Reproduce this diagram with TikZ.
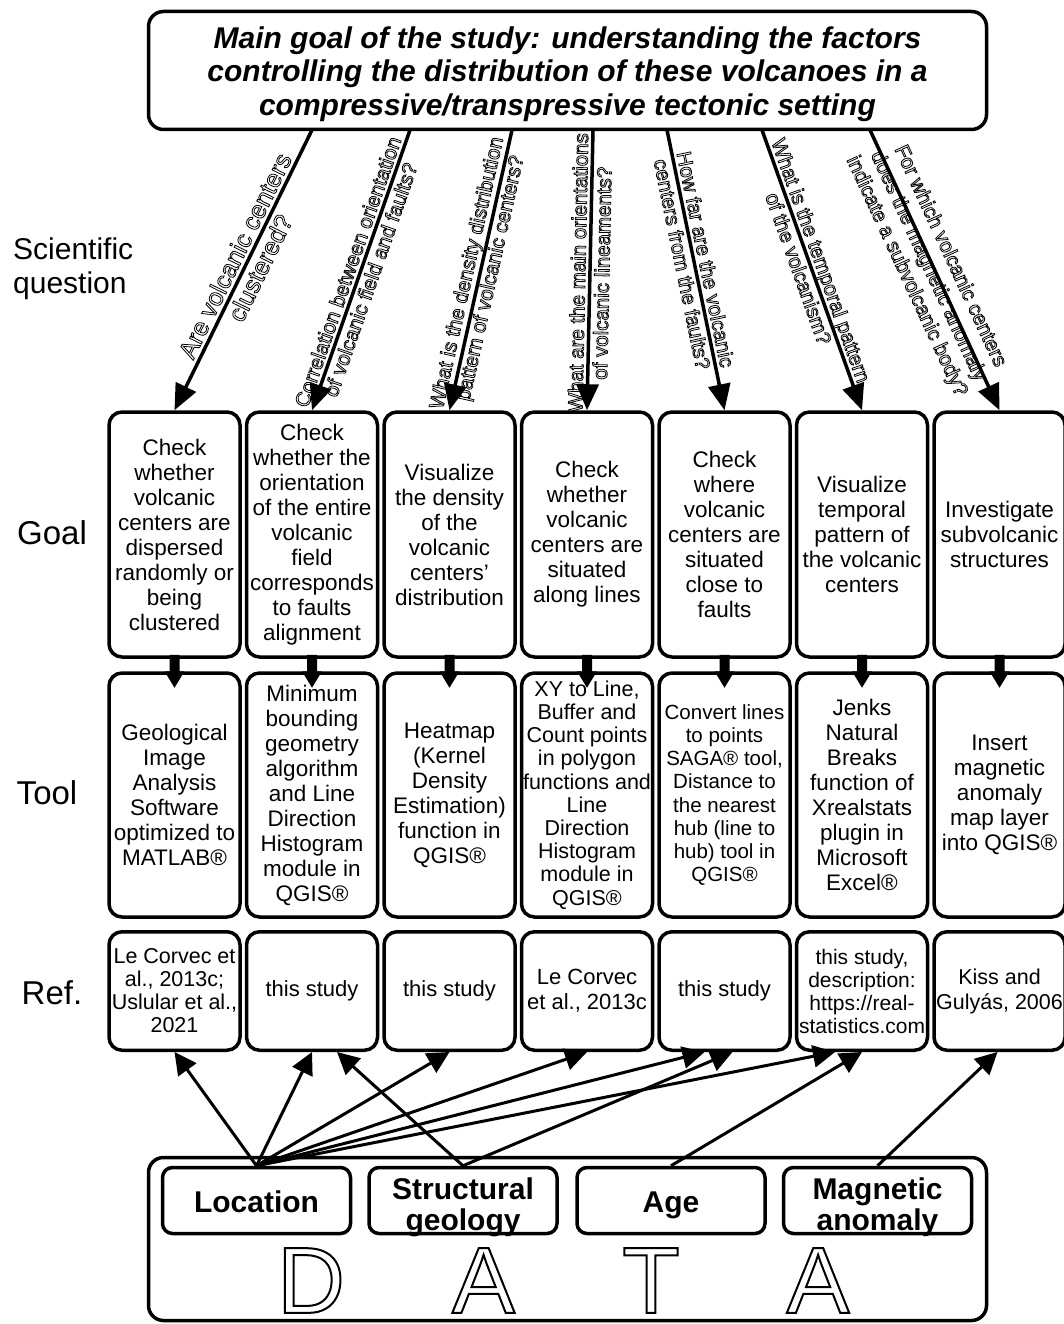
\documentclass[tikz,border=0pt]{standalone}
\usepackage{fontspec}
\setmainfont{Liberation Sans}
\usetikzlibrary{arrows.meta,calc}

% outlined (hollow) text: PDF text rendering mode 1 (stroke only)
\newcommand{\olt}[2][0.8]{%
  \special{pdf:literal direct #1 w 1 Tr}#2\special{pdf:literal direct 0 Tr}}

\begin{document}
\begin{tikzpicture}[x=1pt,y=-1pt,
  box/.style={draw=black, line width=3.5pt, rounded corners=13pt, fill=white,
    align=center, inner sep=0pt, minimum width=131pt},
  goalbox/.style={box, minimum height=245pt, font=\fontsize{22.5}{25}\selectfont},
  toolbox/.style={box, minimum height=244pt, font=\fontsize{22.5}{25}\selectfont},
  refbox/.style={box, minimum height=118.5pt, font=\fontsize{22}{23}\selectfont},
  qarrow/.style={line width=3.5pt, -{Triangle[length=26pt,width=22pt]}},
  darrow/.style={line width=3pt, -{Triangle[length=22pt,width=22pt]}},
  qtext/.style={sloped, align=center, inner sep=0pt, font=\fontsize{20.5}{24}\selectfont},
  sidelabel/.style={inner sep=0pt, font=\fontsize{33}{34}\selectfont},
  databox/.style={draw=black, line width=3.5pt, rounded corners=10pt, fill=white,
    minimum width=188pt, minimum height=66pt, inner sep=0pt},
  datatext/.style={align=center, inner sep=0pt, font=\bfseries\fontsize{30}{31}\selectfont},
  bigletter/.style={inner sep=0pt, font=\fontsize{94}{94}\selectfont},
  fatarrow/.style={fill=black}
]
\useasboundingbox (0,0) rectangle (1064,1324);

% ---------- main goal ----------
\node[draw=black, line width=3.5pt, rounded corners=15pt, fill=white,
  minimum width=838pt, minimum height=118pt, inner sep=0pt] (top) at (567.5,70.5) {};
\node[align=center, inner sep=0pt, font=\bfseries\itshape\fontsize{30}{33.5}\selectfont]
  (toptext) at (567.5,74)
  {Main goal of the study: understanding the factors\\
   controlling the distribution of these volcanoes in a\\
   compressive/transpressive tectonic setting};

% ---------- side labels ----------
\node[sidelabel, anchor=west, align=left, font=\fontsize{30}{34}\selectfont] (lq) at (13,269) {Scientific\\question};
\node[sidelabel] (lg) at (52,533) {Goal};
\node[sidelabel] (lt) at (47,793) {Tool};
\node[sidelabel] (lr) at (52,993) {Ref.};

% ---------- goal boxes ----------
\node[goalbox] (g1) at (174.5,534.5) {Check\\whether\\volcanic\\centers are\\dispersed\\randomly or\\being\\clustered};
\node[goalbox] (g2) at (312,534.5) {Check\\whether the\\orientation\\of the entire\\volcanic\\field\\corresponds\\to faults\\alignment};
\node[goalbox] (g3) at (449.5,534.5) {Visualize\\the density\\of the\\volcanic\\centers'\\distribution};
\node[goalbox] (g4) at (587,534.5) {Check\\whether\\volcanic\\centers are\\situated\\along lines};
\node[goalbox] (g5) at (724.5,534.5) {Check\\where\\volcanic\\centers are\\situated\\close to\\faults};
\node[goalbox] (g6) at (862,534.5) {Visualize\\temporal\\pattern of\\the volcanic\\centers};
\node[goalbox] (g7) at (999.5,534.5) {Investigate\\subvolcanic\\structures};

% ---------- tool boxes ----------
\node[toolbox] (t1) at (174.5,795) {Geological\\Image\\Analysis\\Software\\optimized to\\MATLAB®};
\node[toolbox] (t2) at (312,795) {Minimum\\bounding\\geometry\\algorithm\\and Line\\Direction\\Histogram\\module in\\QGIS®};
\node[toolbox] (t3) at (449.5,795) {Heatmap\\(Kernel\\Density\\Estimation)\\function in\\QGIS®};
\node[toolbox, font=\fontsize{21.5}{23.2}\selectfont] (t4) at (587,795) {XY to Line,\\Buffer and\\Count points\\in polygon\\functions and\\Line\\Direction\\Histogram\\module in\\QGIS®};
\node[toolbox, font=\fontsize{20.5}{23.1}\selectfont] (t5) at (724.5,795) {Convert lines\\to points\\SAGA® tool,\\Distance to\\the nearest\\hub (line to\\hub) tool in\\QGIS®};
\node[toolbox] (t6) at (862,795) {Jenks\\Natural\\Breaks\\function of\\Xrealstats\\plugin in\\Microsoft\\Excel®};
\node[toolbox] (t7) at (999.5,795) {Insert\\magnetic\\anomaly\\map layer\\into QGIS®};

% ---------- reference boxes ----------
\node[refbox, font=\fontsize{21.5}{23}\selectfont] (r1) at (174.5,991) {Le Corvec et\\al., 2013c;\\Uslular et al.,\\2021};
\node[refbox] (r2) at (312,991) {this study};
\node[refbox] (r3) at (449.5,991) {this study};
\node[refbox, font=\fontsize{22}{25}\selectfont] (r4) at (587,991) {Le Corvec\\et al., 2013c};
\node[refbox] (r5) at (724.5,991) {this study};
\node[refbox, font=\fontsize{21}{23}\selectfont] (r6) at (862,991) {this study,\\description:\\https://real-\\statistics.com};
\node[refbox, font=\fontsize{21.5}{25}\selectfont] (r7) at (999.5,991) {Kiss and\\Gulyás, 2006};

% ---------- goal -> tool arrows ----------
\foreach \i in {1,...,7}{
  \fill[fatarrow] ($(g\i.south)+(-5,-4)$) -- ++(10,0) -- ++(0,16.5) -- ++(5,0)
    -- ++(-10,16.5) -- ++(-10,-16.5) -- ++(5,0) -- cycle;
}

% ---------- question arrows ----------
\coordinate (s1) at (312,130);
\coordinate (s2) at (410,130);
\coordinate (s3) at (512,130);
\coordinate (s4) at (593,130);
\coordinate (s5) at (667,130);
\coordinate (s6) at (762,130);
\coordinate (s7) at (870,130);

\draw[qarrow] (s1) -- node[qtext, pos=0.47, font=\fontsize{25}{28}\selectfont]
  {\olt{Are volcanic centers}\\\olt{clustered?}} (g1.north);
\draw[qarrow] (s2) -- node[qtext, pos=0.52]
  {\olt{Correlation between orientation}\\\olt{of volcanic field and faults?}} (g2.north);
\draw[qarrow] (s3) -- node[qtext, pos=0.52]
  {\olt{What is the density distribution}\\\olt{pattern of volcanic centers?}} (g3.north);
\draw[qarrow] (s4) -- node[qtext, pos=0.51]
  {\olt{What are the main orientations}\\\olt{of volcanic lineaments?}} (g4.north);
\draw[qarrow] (s5) -- node[qtext, pos=0.47]
  {\olt{How far are the volcanic}\\\olt{centers from the faults?}} (g5.north);
\draw[qarrow] (s6) -- node[qtext, pos=0.48]
  {\olt{What is the temporal pattern}\\\olt{of the volcanism?}} (g6.north);
\draw[qarrow] (s7) -- node[qtext, pos=0.48]
  {\mbox{}\\\olt{For which volcanic centers}\\\olt{does the magnetic anomaly}\\\olt{indicate a subvolcanic body?}} (g7.north);

% ---------- data ----------
\node[draw=black, line width=3.5pt, rounded corners=15pt, minimum width=838pt,
  minimum height=163pt, inner sep=0pt] (data) at (567.5,1239) {};
\node[databox] (loc) at (256.5,1200.5) {};
\node[databox] (str) at (463,1200.5) {};
\node[databox] (age) at (671,1200.5) {};
\node[databox] (mag) at (877.5,1200.5) {};
\node[datatext, anchor=base] (locT) at (256.5,1212) {Location};
\node[datatext] (strT) at (463,1207) {Structural\\geology};
\node[datatext, anchor=base] (ageT) at (671,1212) {Age};
\node[datatext] (magT) at (877.5,1207) {Magnetic\\anomaly};

\node[bigletter] (dD) at (311,1280.5) {\olt[2]{D}};
\node[bigletter] (dA) at (483.5,1280.5) {\olt[2]{A}};
\node[bigletter] (dT) at (651,1280.5) {\olt[2]{T}};
\node[bigletter] (dA2) at (818,1280.5) {\olt[2]{A}};

% ---------- data -> reference arrows ----------
\draw[darrow] (loc.north) -- (r1.south);
\draw[darrow] (loc.north) -- (r2.south);
\draw[darrow] (loc.north) -- (r3.south);
\draw[darrow] (loc.north) -- (r4.south);
\draw[darrow] (loc.north) -- ([xshift=-20pt]r5.south);
\draw[darrow] (loc.north) -- ([xshift=-27pt]r6.south);
\draw[darrow] (str.north) -- ([xshift=25pt]r2.south);
\draw[darrow] (str.north) -- ([xshift=8pt]r5.south);
\draw[darrow] (age.north) -- (r6.south);
\draw[darrow] (mag.north) -- ([xshift=-2pt]r7.south);
\end{tikzpicture}
\end{document}
